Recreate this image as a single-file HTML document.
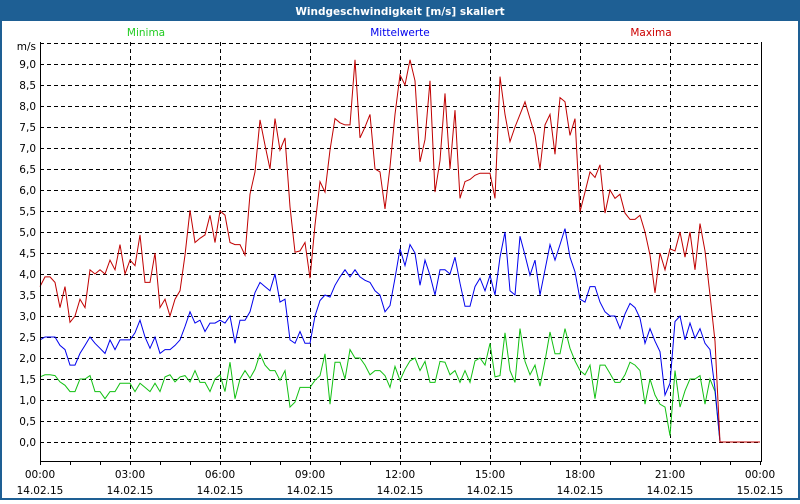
<!DOCTYPE html>
<html><head><meta charset="utf-8"><style>
body{margin:0;width:800px;height:500px;overflow:hidden;background:#fff;font-family:"DejaVu Sans","Liberation Sans",sans-serif}
svg text{font-family:"DejaVu Sans","Liberation Sans",sans-serif;font-size:10.5px}
</style></head><body>
<svg id="c" width="800" height="500">
<rect x="0" y="0" width="800" height="500" fill="#1e5f94"/>
<rect x="2" y="21" width="796" height="477" fill="#fff"/>
<text x="400" y="15" text-anchor="middle" fill="#fff" font-weight="bold">Windgeschwindigkeit [m/s] skaliert</text>
<text x="146" y="36" text-anchor="middle" fill="#22cc22">Minima</text>
<text x="400" y="36" text-anchor="middle" fill="#0000ee">Mittelwerte</text>
<text x="651" y="36" text-anchor="middle" fill="#cc0000">Maxima</text>
<text x="36" y="50" text-anchor="end" fill="#000">m/s</text>
<g id="grid"></g><g id="series"></g><g id="axes"></g>
</svg>
<script>
const hours=[0,3,6,9,12,15,18,21,24];
const xLabels=["00:00","03:00","06:00","09:00","12:00","15:00","18:00","21:00","00:00"];
const dLabels=["14.02.15","14.02.15","14.02.15","14.02.15","14.02.15","14.02.15","14.02.15","14.02.15","15.02.15"];
const yTicks=[0,0.5,1,1.5,2,2.5,3,3.5,4,4.5,5,5.5,6,6.5,7,7.5,8,8.5,9];
const maxima=[3.7,3.93,3.93,3.8,3.2,3.7,2.85,3.0,3.4,3.2,
4.1,4.0,4.1,4.0,4.33,4.1,4.7,4.0,4.33,4.2,
4.93,3.8,3.8,4.5,3.2,3.4,3.0,3.4,3.6,4.45,
5.52,4.75,4.85,4.93,5.4,4.75,5.5,5.4,4.75,4.7,
4.7,4.45,5.9,6.43,7.67,7.07,6.5,7.7,6.95,7.24,
5.6,4.52,4.55,4.75,3.9,5.17,6.2,5.95,6.95,7.7,
7.6,7.55,7.55,9.1,7.24,7.5,7.8,6.5,6.43,5.55,
6.55,7.8,8.74,8.5,9.1,8.6,6.67,7.2,8.6,5.95,
6.7,8.3,6.5,7.9,5.8,6.2,6.25,6.35,6.4,6.4,
6.4,5.8,8.7,7.8,7.15,7.5,7.8,8.1,7.7,7.3,
6.5,7.55,7.8,6.85,8.2,8.1,7.3,7.7,5.48,5.95,
6.43,6.3,6.6,5.45,6.0,5.8,5.9,5.45,5.3,5.3,
5.4,5.0,4.45,3.55,4.5,4.1,4.6,4.55,5.0,4.4,
5.0,4.1,5.2,4.55,3.5,2.4,0,0,0,0,0,0,0,0,0];
const mittel=[2.43,2.5,2.5,2.5,2.3,2.2,1.83,1.83,2.11,2.3,
2.5,2.35,2.23,2.11,2.43,2.2,2.43,2.43,2.43,2.6,
2.9,2.5,2.23,2.5,2.11,2.2,2.2,2.3,2.43,2.75,
3.1,2.83,2.9,2.63,2.83,2.83,2.9,2.83,3.0,2.35,
2.9,2.9,3.1,3.56,3.8,3.7,3.6,4.0,3.33,3.4,
2.43,2.35,2.63,2.35,2.35,3.0,3.37,3.5,3.45,3.73,
3.93,4.1,3.93,4.1,3.93,3.85,3.8,3.6,3.5,3.1,
3.25,3.9,4.6,4.2,4.7,4.5,3.73,4.33,3.97,3.5,
4.1,4.1,4.0,4.4,3.78,3.23,3.23,3.7,3.9,3.6,
3.97,3.5,4.4,5.0,3.6,3.5,4.9,4.45,3.97,4.33,
3.5,4.1,4.7,4.33,4.7,5.08,4.4,4.05,3.4,3.33,
3.7,3.7,3.33,3.1,3.0,3.0,2.7,3.05,3.3,3.2,
2.95,2.35,2.7,2.4,2.15,1.12,1.4,2.87,3.0,2.43,
2.83,2.47,2.7,2.35,2.2,1.27,0,0,0,0,0,0,0,0,0];
const minima=[1.55,1.6,1.6,1.58,1.43,1.35,1.2,1.2,1.5,1.5,
1.58,1.2,1.2,1.03,1.2,1.2,1.4,1.4,1.4,1.2,
1.4,1.3,1.2,1.4,1.2,1.55,1.6,1.43,1.55,1.58,
1.43,1.7,1.42,1.42,1.2,1.5,1.6,1.2,1.9,1.03,
1.5,1.7,1.52,1.73,2.1,1.83,1.7,1.7,1.47,1.7,
0.83,0.95,1.3,1.3,1.3,1.47,1.58,2.1,0.9,1.9,
1.9,1.5,2.2,2.0,2.0,1.83,1.6,1.7,1.7,1.58,
1.3,1.8,1.47,1.73,1.93,2.0,1.7,1.92,1.42,1.42,
1.92,1.9,1.6,1.7,1.42,1.7,1.42,1.93,2.0,1.83,
2.35,1.55,1.58,2.6,1.7,1.42,2.7,1.92,1.6,1.83,
1.33,1.93,2.62,2.1,2.1,2.7,2.23,1.93,1.7,1.6,
1.83,1.03,1.83,1.83,1.63,1.42,1.42,1.6,1.9,1.83,
1.7,0.9,1.5,1.12,0.9,0.83,0.15,1.7,0.83,1.22,
1.5,1.5,1.58,0.9,1.5,1.2,0,0,0,0,0,0,0,0,0];
const NS="http://www.w3.org/2000/svg";
const X=h=>40+h*30, Y=v=>442-v*42;
function mk(t,a,p){const e=document.createElementNS(NS,t);for(const k in a)e.setAttribute(k,a[k]);p.appendChild(e);return e;}
const grid=document.getElementById('grid'),axes=document.getElementById('axes'),ser=document.getElementById('series');
[...yTicks,9.5].forEach(v=>{
 const l=mk('line',{x1:40,x2:761,y1:Y(v)+0.5,y2:Y(v)+0.5,stroke:'#000','stroke-dasharray':'4,3'},grid);
 
 
});
yTicks.forEach(v=>{
 const t=mk('text',{x:36,y:Y(v)+4,'text-anchor':'end',fill:'#000'},axes);t.textContent=v.toFixed(1).replace('.',',');
 
 
});
hours.forEach((h,i)=>{
 if(i>0&&i<8){const l=mk('line',{x1:X(h)+0.5,x2:X(h)+0.5,y1:42,y2:461,stroke:'#000','stroke-dasharray':'4,3'},grid);
 
 }
 const t=mk('text',{x:X(h),y:478,'text-anchor':'middle',fill:'#000'},axes);t.textContent=xLabels[i];
 
 
 const d=mk('text',{x:X(h),y:494,'text-anchor':'middle',fill:'#000'},axes);d.textContent=dLabels[i];
 
 
});
for(let h=0;h<=24;h++){const l=mk('line',{x1:X(h)+0.5,x2:X(h)+0.5,y1:461,y2:465,stroke:'#000'},axes);
 
 }
const ax=mk('path',{d:'M40.5 42V461.5H761.5V42',fill:'none',stroke:'#000'},axes);


function line(arr,col,name){
 const d=arr.map((v,i)=>(i?'L':'M')+X(i/6).toFixed(1)+' '+Y(v).toFixed(1)).join('');
 const p=mk('path',{d:d,fill:'none',stroke:col,'stroke-width':1},ser);
 
 
}
line(minima,'#11c011','minima-line');
line(mittel,'#0000ee','mittelwerte-line');
line(maxima,'#c00000','maxima-line');
</script>
</body></html>
